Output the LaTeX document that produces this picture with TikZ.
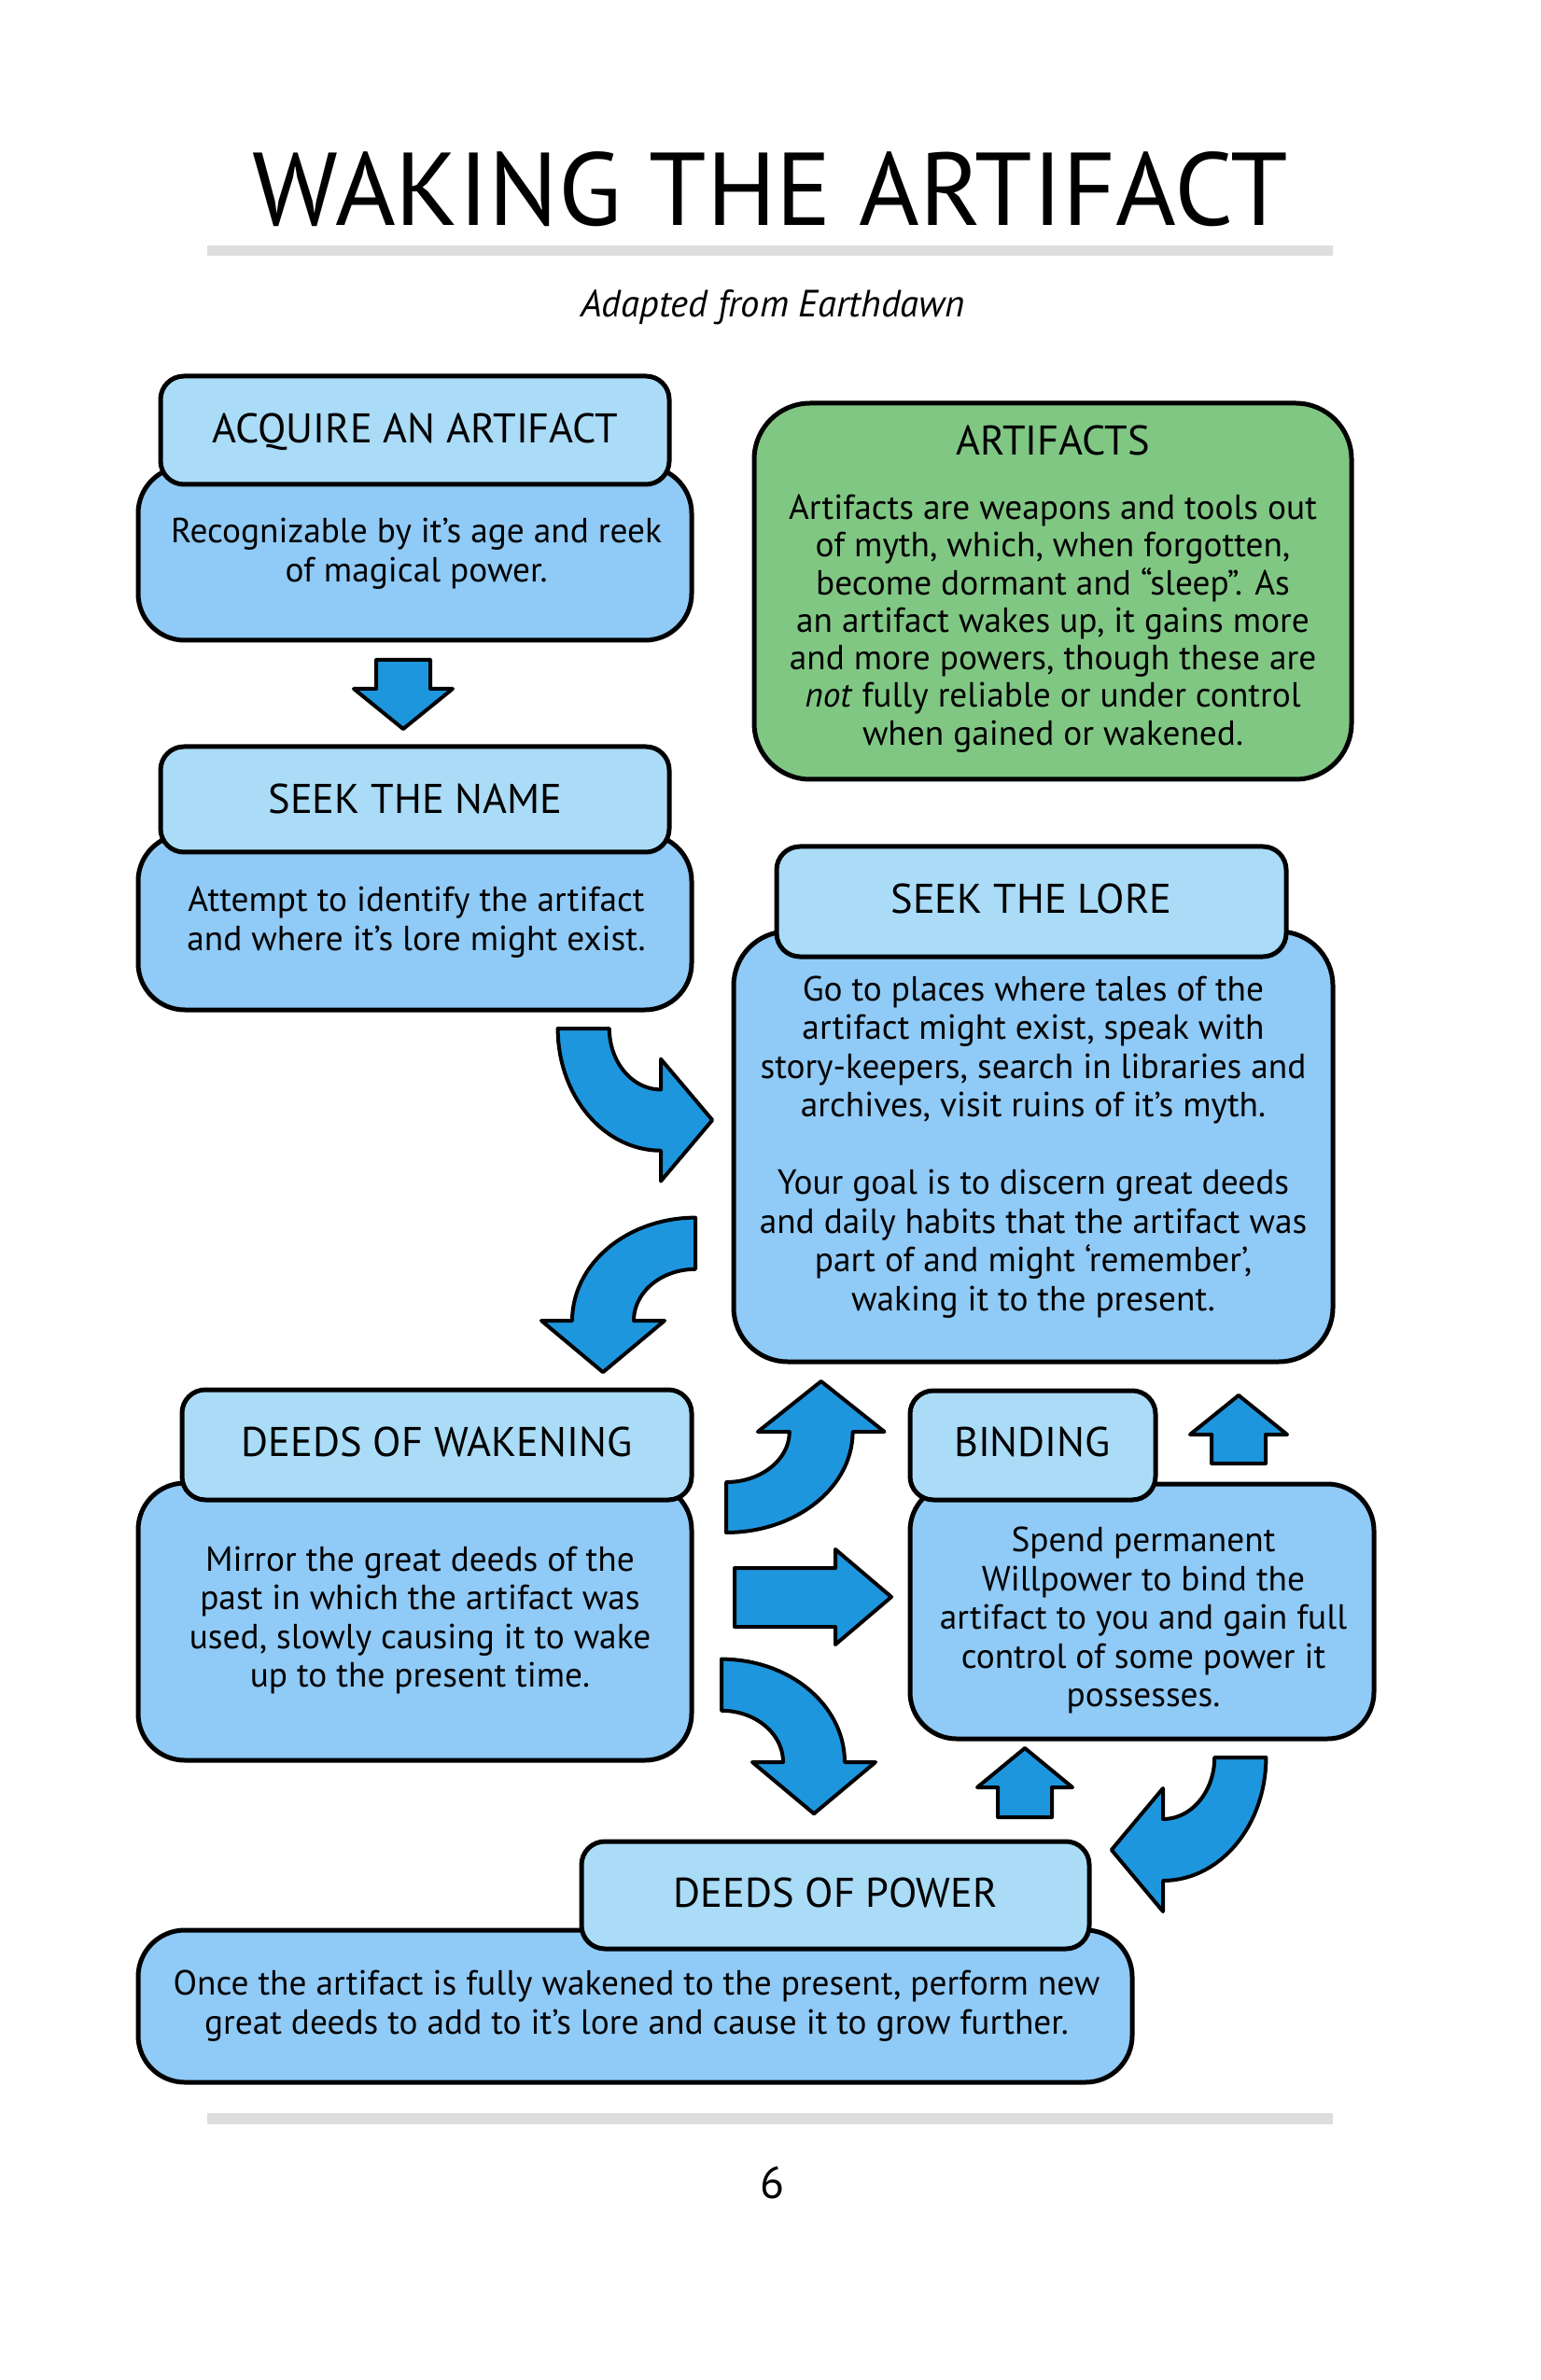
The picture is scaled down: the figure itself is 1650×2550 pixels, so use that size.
\documentclass[tikz,border=0pt]{standalone}
\usepackage{fontspec}
\setmainfont{PT Sans}
\usetikzlibrary{positioning,fit}

\definecolor{headblue}{HTML}{AADCF7}
\definecolor{bodyblue}{HTML}{90CAF6}
\definecolor{noteg}{HTML}{81C784}
\definecolor{arrowblue}{HTML}{1E96DE}
\definecolor{rulegray}{HTML}{DDDDDD}

\newlength{\pix}\setlength{\pix}{0.2409pt}

% bent block arrow: centre x, centre y, start angle, end angle, sign, xscale, yscale
\newcommand{\bentarrow}[7]{%
  \begin{scope}[shift={(#1,#2)},xscale=#6,yscale=#7]
    \filldraw[flowarrow] plot[domain=#3:#4,samples=30] ({120*cos(\x)},{120*sin(\x)})
      -- ({150*cos(#4)},{150*sin(#4)})
      -- ({90*cos(#4)-#5*60*sin(#4)},{90*sin(#4)+#5*60*cos(#4)})
      -- ({30*cos(#4)},{30*sin(#4)})
      -- plot[domain=#4:#3,samples=30] ({60*cos(\x)},{60*sin(\x)}) -- cycle;
  \end{scope}}

\begin{document}
\begin{tikzpicture}[x=0.2409pt,y=-0.2409pt,
    panel/.style={draw=black,line width=5\pix,rounded corners=50\pix,fill=bodyblue,inner sep=0pt},
    headpanel/.style={panel,fill=headblue,rounded corners=25\pix},
    notepanel/.style={panel,fill=noteg,rounded corners=60\pix},
    headtext/.style={anchor=base,font=\fontsize{10.7}{12}\selectfont},
    bodytext/.style={align=center,font=\fontsize{9}{10}\selectfont},
    flowarrow/.style={draw=black,line width=4\pix,fill=arrowblue,line join=round}]
  \fill[white] (0,0) rectangle (1650,2550);
  \useasboundingbox (0,0) rectangle (1650,2550);

  % page title
  \node[anchor=base,font=\fontsize{26.7}{30}\selectfont] (title) at (825,242) {WAKING THE ARTIFACT};
  \fill[rulegray] (222,263) rectangle (1428,274);
  \node[anchor=base,font=\fontsize{9.8}{12}\selectfont\itshape] (subtitle) at (828,340) {Adapted from Earthdawn};

  % panels
  \node[panel,fit={(148,500) (741,686)}] (acq) {};
  \node[headpanel,fit={(172,403) (717,519)}] (acqhead) {};
  \node[panel,fit={(148,894) (741,1082)}] (name) {};
  \node[headpanel,fit={(172,800) (717,913)}] (namehead) {};
  \node[notepanel,fit={(808,432) (1448,835)}] (note) {};
  \node[panel,rounded corners=58\pix,fit={(786,998) (1428,1459)}] (lore) {};
  \node[headpanel,fit={(832,907) (1378,1025)}] (lorehead) {};
  \node[panel,fit={(148,1589) (741,1886)}] (waken) {};
  \node[headpanel,fit={(195,1489) (741,1607)}] (wakenhead) {};
  \node[panel,fit={(975,1590) (1472,1863)}] (bind) {};
  \node[headpanel,fit={(975,1490) (1238,1607)}] (bindhead) {};
  \node[panel,fit={(148,2068) (1213,2231)}] (power) {};
  \node[headpanel,fit={(623,1973) (1167,2088)}] (powerhead) {};

  % headings
  \node[headtext] (acqtitle) at (445,475) {ACQUIRE AN ARTIFACT};
  \node[headtext] (nametitle) at (445,872) {SEEK THE NAME};
  \node[headtext] (notetitle) at (1128,488) {ARTIFACTS};
  \node[headtext] (loretitle) at (1105,978) {SEEK THE LORE};
  \node[headtext] (wakentitle) at (468,1560) {DEEDS OF WAKENING};
  \node[headtext] (bindtitle) at (1106,1560) {BINDING};
  \node[headtext] (powertitle) at (895,2043) {DEEDS OF POWER};

  % texts
  \node[bodytext] (acqtext) at (446,593) {Recognizable by it’s age and reek\\of magical power.};
  \node[bodytext] (nametext) at (446,988) {Attempt to identify the artifact\\and where it’s lore might exist.};
  \node[bodytext,font=\fontsize{9}{9.7}\selectfont] (notetext) at (1128,668) {Artifacts are weapons and tools out\\of myth, which, when forgotten,\\become dormant and “sleep”. As\\an artifact wakes up, it gains more\\and more powers, though these are\\\textit{not} fully reliable or under control\\when gained or wakened.};
  \node[bodytext] (loretext) at (1107,1229) {Go to places where tales of the\\artifact might exist, speak with\\story-keepers, search in libraries and\\archives, visit ruins of it’s myth.\\[10pt]Your goal is to discern great deeds\\and daily habits that the artifact was\\part of and might ‘remember’,\\waking it to the present.};
  \node[bodytext] (wakentext) at (450,1736) {Mirror the great deeds of the\\past in which the artifact was\\used, slowly causing it to wake\\up to the present time.};
  \node[bodytext] (bindtext) at (1225,1736) {Spend permanent\\Willpower to bind the\\artifact to you and gain full\\control of some power it\\possesses.};
  \node[bodytext] (powertext) at (682,2149) {Once the artifact is fully wakened to the present, perform new\\great deeds to add to it’s lore and cause it to grow further.};

  % straight arrows
  \filldraw[flowarrow] (403,707) -- (461,707) -- (461,738) -- (485,738) -- (432,781) -- (379,738) -- (403,738) -- cycle;
  \filldraw[flowarrow] (787,1680) -- (895,1680) -- (895,1660) -- (955,1711) -- (895,1762) -- (895,1743) -- (787,1743) -- cycle;
  \filldraw[flowarrow] (1298,1568) -- (1298,1537) -- (1275,1537) -- (1327,1495) -- (1379,1537) -- (1356,1537) -- (1356,1568) -- cycle;
  \filldraw[flowarrow] (1069,1947) -- (1069,1915) -- (1047,1915) -- (1098,1873) -- (1149,1915) -- (1127,1915) -- (1127,1947) -- cycle;

  % bent arrows
  \bentarrow{708}{1102}{180}{90}{-1}{0.92}{1.09}
  \bentarrow{745}{1415}{270}{180}{-1}{1.1}{0.92}
  \bentarrow{778}{1534}{90}{0}{-1}{1.13}{0.9}
  \bentarrow{773}{1888}{270}{360}{1}{1.1}{0.92}
  \bentarrow{1246}{1883}{0}{90}{1}{0.92}{1.1}

  % footer
  \fill[rulegray] (222,2264) rectangle (1428,2276);
  \node[anchor=base,font=\fontsize{11.5}{13}\selectfont] (pageno) at (827,2355) {6};
\end{tikzpicture}
\end{document}
